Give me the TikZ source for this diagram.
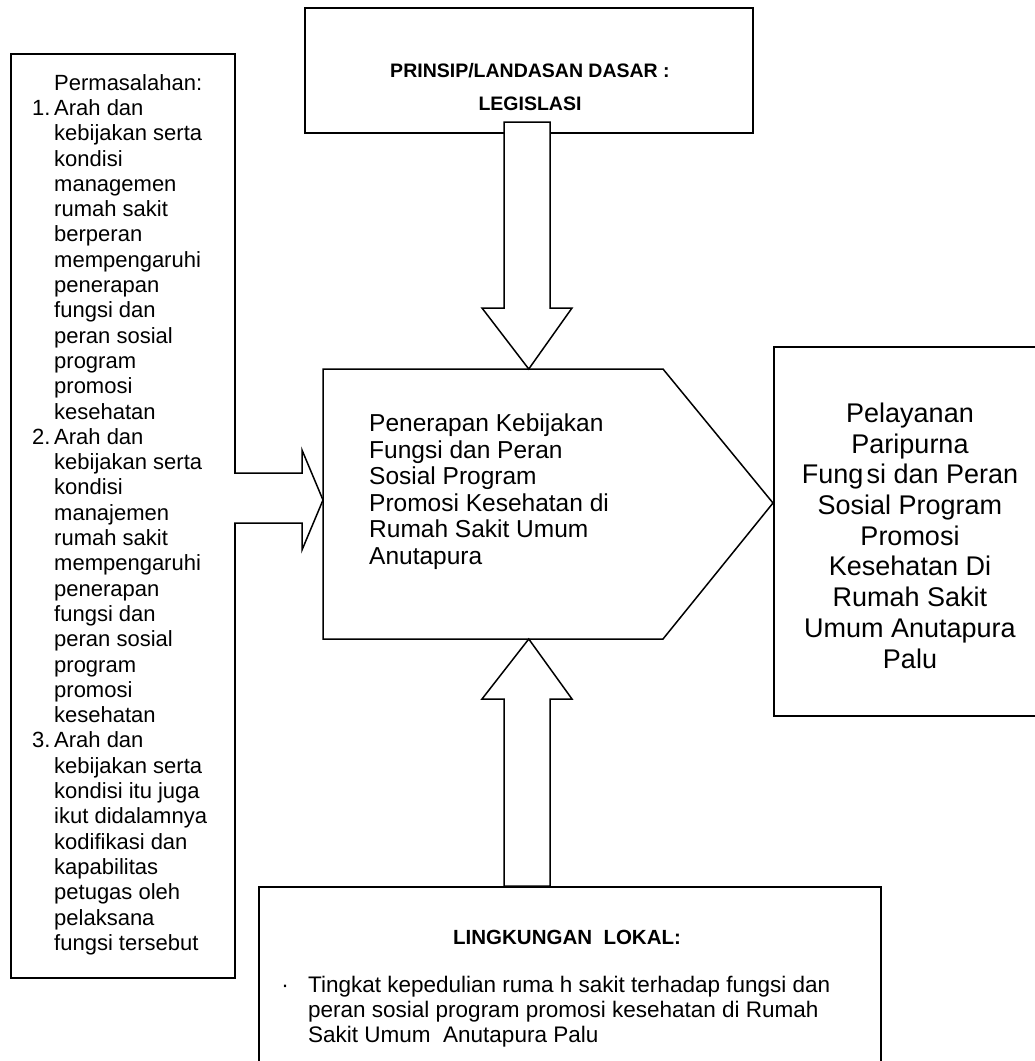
\documentclass[tikz,border=0pt]{standalone}
\usepackage{fontspec}
\setmainfont{Liberation Sans}
\newcommand*{\fs}[2]{\fontsize{#1}{#2}\selectfont}
\newcommand*{\nomor}[1]{\llap{\makebox[22pt][l]{#1.}}}

\begin{document}
\begin{tikzpicture}
        [x=1pt,y=-1pt,
          boxdecorate/.style={draw,line width=1.5pt,inner sep=0pt,anchor=north west},%
          arrowdecorate/.style={draw,fill=white,line width=1.5pt,line join=miter},%
          textdecorate/.style={inner sep=0pt,align=left}]
        \clip (0,0) rectangle (1035,1061);
        %% boxes
        \node (dasar) [boxdecorate,minimum width=448pt,minimum height=125pt] at (304,7) {};
        \node (masalah) [boxdecorate,minimum width=224pt,minimum height=924pt] at (10,53) {};
        \node (pelayanan) [boxdecorate,minimum width=272pt,minimum height=369pt] at (773,346) {};
        \node (lokal) [boxdecorate,minimum width=622pt,minimum height=190pt] at (258,886) {};
        %% pentagon
        \foreach \nodename/\x/\y in {p1/323/369, p2/663/369, p3/773/503, p4/663/639, p5/323/639}
        {
          \coordinate (\nodename) at (\x,\y);
        }
        \draw[line width=1.5pt] (p1) -- (p2) -- (p3) -- (p4) -- (p5) -- cycle;
        %% block arrows
        \draw[arrowdecorate] (504,122) -- (550,122) -- (550,308) -- (572,308)
          -- (p1 -| dasar.south) -- (482,308) -- (504,308) -- cycle;
        \draw[arrowdecorate] (504,886) -- (550,886) -- (550,699) -- (572,699)
          -- (p5 -| dasar.south) -- (482,699) -- (504,699) -- cycle;
        \draw[arrowdecorate] (234,473) -- (302,473) -- (302,450) -- (323,500)
          -- (302,550) -- (302,523) -- (234,523);
        %% texts
        \node (dasartext) [textdecorate,align=center,anchor=base,font=\bfseries\fs{19.5}{33}]
          at (530,110) {PRINSIP/LANDASAN DASAR :\\LEGISLASI};
        \node (masalahtext) [textdecorate,anchor=north west,font=\fs{22}{25.3}] at (54,74)
          {Permasalahan:\\
          \nomor{1}Arah dan\\ kebijakan serta\\ kondisi\\ managemen\\ rumah sakit\\
          berperan\\ mempengaruhi\\ penerapan\\ fungsi dan\\ peran sosial\\ program\\
          promosi\\ kesehatan\\
          \nomor{2}Arah dan\\ kebijakan serta\\ kondisi\\ manajemen\\ rumah sakit\\
          mempengaruhi\\ penerapan\\ fungsi dan\\ peran sosial\\ program\\ promosi\\
          kesehatan\\
          \nomor{3}Arah dan\\ kebijakan serta\\ kondisi itu juga\\ ikut didalamnya\\
          kodifikasi dan\\ kapabilitas\\ petugas oleh\\ pelaksana\\ fungsi tersebut};
        \node (penerapan) [textdecorate,anchor=base west,font=\fs{24.5}{26.5}] at (369,564)
          {Penerapan Kebijakan\\ Fungsi dan Peran\\ Sosial Program\\
          Promosi Kesehatan di\\ Rumah Sakit Umum\\ Anutapura};
        \node (pelayanantext) [textdecorate,align=center,anchor=base,font=\fs{27}{30.7}]
          at (910,668) {Pelayanan\\ Paripurna\\ Fung\hspace{0.12em}si dan Peran\\
          Sosial Program\\ Promosi\\ Kesehatan Di\\ Rumah Sakit\\ Umum Anutapura\\ Palu};
        \node (lokaltext) [textdecorate,anchor=base west,font=\bfseries\fs{20.5}{24}]
          at (453,944) {LINGKUNGAN\ \ LOKAL:};
        \node (bullet) [textdecorate,anchor=base,font=\fs{22.5}{25}] at (285,992) {\textperiodcentered};
        \node (tingkat) [textdecorate,anchor=base west,font=\fs{22.5}{25}] at (308,1042)
          {Tingkat kepedulian ruma h sakit terhadap fungsi dan\\
          peran sosial program promosi kesehatan di Rumah\\ Sakit Umum\ \ Anutapura Palu};
\end{tikzpicture}
\end{document}
